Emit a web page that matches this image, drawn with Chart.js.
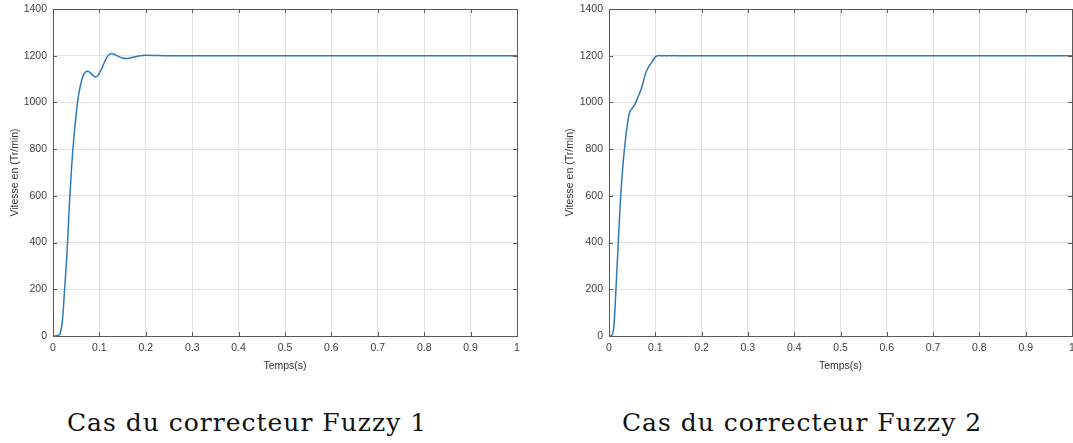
<!DOCTYPE html>
<html>
<head>
<meta charset="utf-8">
<script src="https://cdn.jsdelivr.net/npm/chart.js@4"></script>
<style>
  body { margin: 0; background: #fff; width: 1073px; height: 443px; overflow: hidden; position: relative; }
  canvas { position: absolute; top: 0; }
  .caption { position: absolute; top: 410px; font-family: "DejaVu Serif", serif; font-size: 25px; line-height: 25px; letter-spacing: 1px; color: #111; white-space: nowrap; transform: translateX(-50%); }
</style>
</head>
<body>
<canvas id="c1" width="530" height="376" style="left:0"></canvas>
<canvas id="c2" width="518" height="376" style="left:555px"></canvas>
<div class="caption" style="left:247px">Cas du correcteur Fuzzy 1</div>
<div class="caption" style="left:802px">Cas du correcteur Fuzzy 2</div>
<script>
// temps (s) et vitesse (Tr/min) pour chaque correcteur
const temps1 = [0, 0.01, 0.015, 0.02, 0.025, 0.03, 0.035, 0.04, 0.045, 0.05, 0.055, 0.06, 0.065, 0.07, 0.075, 0.08, 0.085, 0.09, 0.095, 0.1, 0.105, 0.11, 0.115, 0.12, 0.125, 0.13, 0.14, 0.15, 0.16, 0.17, 0.18, 0.19, 0.2, 0.25, 0.3, 0.4, 0.5, 0.6, 0.7, 0.8, 0.9, 1];
const vitesse1 = [0, 2, 10, 60, 200, 350, 550, 720, 850, 950, 1030, 1080, 1115, 1130, 1133, 1128, 1118, 1110, 1112, 1125, 1145, 1168, 1190, 1203, 1208, 1207, 1198, 1190, 1188, 1192, 1197, 1200, 1202, 1200, 1200, 1200, 1200, 1200, 1200, 1200, 1200, 1200];

const temps2 = [0, 0.005, 0.01, 0.015, 0.02, 0.025, 0.03, 0.035, 0.04, 0.045, 0.05, 0.055, 0.06, 0.065, 0.07, 0.075, 0.08, 0.085, 0.09, 0.095, 0.1, 0.105, 0.11, 0.115, 0.12, 0.125, 0.13, 0.135, 0.14, 0.145, 0.15, 0.2, 0.3, 0.5, 0.7, 1];
const vitesse2 = [0, 0, 30, 200, 400, 590, 730, 830, 910, 960, 975, 990, 1010, 1035, 1060, 1095, 1130, 1150, 1165, 1180, 1195, 1200, 1200.5, 1199.5, 1200.5, 1199.5, 1200.5, 1199.5, 1200.5, 1199.5, 1200, 1200, 1200, 1200, 1200, 1200];

const xTicks = ['0', '0.1', '0.2', '0.3', '0.4', '0.5', '0.6', '0.7', '0.8', '0.9', '1'];
const yTicks = ['0', '200', '400', '600', '800', '1000', '1200', '1400'];

const axisColor = '#5a5a5a';
const tickFont = { family: 'Liberation Sans, Arial, sans-serif', size: 10.5 };

// cadre + petites graduations vers l'intérieur (style Matlab)
const boxPlugin = {
  id: 'box',
  afterDraw(chart) {
    const { ctx, chartArea: a, scales } = chart;
    ctx.save();
    ctx.strokeStyle = axisColor;
    ctx.lineWidth = 1;
    ctx.strokeRect(a.left + 0.5, a.top + 0.5, a.right - a.left, a.bottom - a.top);
    ctx.beginPath();
    scales.x.ticks.forEach(t => {
      const x = Math.round(scales.x.getPixelForValue(t.value)) + 0.5;
      ctx.moveTo(x, a.bottom); ctx.lineTo(x, a.bottom - 4);
      ctx.moveTo(x, a.top); ctx.lineTo(x, a.top + 4);
    });
    scales.y.ticks.forEach(t => {
      const y = Math.round(scales.y.getPixelForValue(t.value)) + 0.5;
      ctx.moveTo(a.left, y); ctx.lineTo(a.left + 4, y);
      ctx.moveTo(a.right, y); ctx.lineTo(a.right - 4, y);
    });
    ctx.stroke();
    ctx.restore();
  }
};

function makeChart(id, temps, vitesse, yWidth, padRight) {
  const points = temps.map((t, i) => ({ x: t, y: vitesse[i] }));
  return new Chart(document.getElementById(id), {
    type: 'scatter',
    data: {
      datasets: [{
        data: points,
        showLine: true,
        borderColor: '#2b7bbd',
        borderWidth: 1.5,
        pointRadius: 0,
        tension: 0.3
      }]
    },
    options: {
      responsive: false,
      animation: false,
      devicePixelRatio: 1,
      layout: { padding: { top: 9, right: padRight, left: 0, bottom: 0 } },
      plugins: { legend: { display: false }, tooltip: { enabled: false } },
      scales: {
        x: {
          type: 'linear', min: 0, max: 1,
          ticks: {
            stepSize: 0.1, color: '#404040', font: tickFont, padding: 6, maxRotation: 0,
            callback: (v, i) => xTicks[i]
          },
          grid: { color: '#e3e3e3', drawTicks: false },
          border: { display: false },
          title: { display: true, text: 'Temps(s)', color: '#303030', font: tickFont, padding: { top: 0, bottom: 4 } },
          afterFit: s => { s.height = 40; s.paddingLeft = 0; s.paddingRight = 0; }
        },
        y: {
          min: 0, max: 1400,
          ticks: {
            stepSize: 200, color: '#404040', font: tickFont, padding: 6,
            callback: (v, i) => yTicks[i]
          },
          grid: { color: '#e3e3e3', drawTicks: false },
          border: { display: false },
          title: { display: true, text: 'Vitesse en (Tr/min)', color: '#303030', font: tickFont, padding: { top: 9, bottom: 0 } },
          afterFit: s => { s.width = yWidth; s.paddingTop = 0; s.paddingBottom = 0; }
        }
      }
    },
    plugins: [boxPlugin]
  });
}

makeChart('c1', temps1, vitesse1, 53, 13);
makeChart('c2', temps2, vitesse2, 54, 1);
</script>
</body>
</html>
